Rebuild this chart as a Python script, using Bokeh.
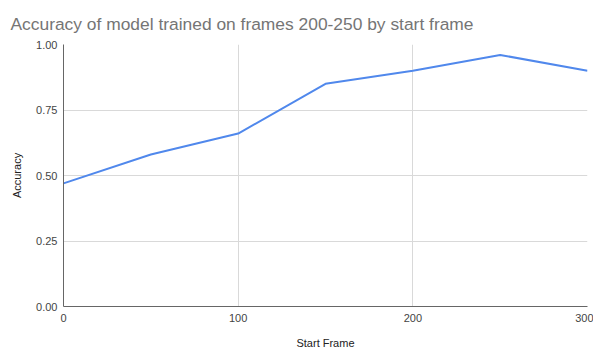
from bokeh.plotting import figure
from bokeh.models import FixedTicker, Range1d
from bokeh.embed import file_html
from bokeh.resources import INLINE

start_frame = [0, 50, 100, 150, 200, 250, 300]
accuracy = [0.47, 0.58, 0.66, 0.85, 0.90, 0.96, 0.90]
x_ticks = [0, 100, 200, 300]
y_ticks = [0.0, 0.25, 0.5, 0.75, 1.0]

FONT = "Liberation Sans"

p = figure(width=593, height=351, output_backend="svg", toolbar_location=None,
           x_range=Range1d(0, 300), y_range=Range1d(0, 1),
           min_border_left=63, min_border_right=6, min_border_top=44, min_border_bottom=44,
           title="Accuracy of model trained on frames 200-250 by start frame")

p.title.text_font = FONT
p.title.text_font_size = "17.4px"
p.title.text_font_style = "normal"
p.title.text_color = "#757575"
p.title.offset = -53
p.title.standoff = 22

p.line(start_frame, accuracy, line_color="#5088ec", line_width=2)

p.xaxis.ticker = FixedTicker(ticks=x_ticks)
p.yaxis.ticker = FixedTicker(ticks=y_ticks)
p.yaxis.major_label_overrides = {0.0: "0.00", 0.25: "0.25", 0.5: "0.50", 0.75: "0.75", 1.0: "1.00"}
p.xaxis.major_label_overrides = {0: "0", 100: "100", 200: "200", 300: "300"}

for ax in (p.xaxis, p.yaxis):
    ax.major_tick_line_color = None
    ax.minor_tick_line_color = None
    ax.axis_line_color = "#666666"
    ax.axis_line_width = 1
    ax.major_label_text_font = FONT
    ax.major_label_text_font_size = "11px"
    ax.major_label_text_color = "#444444"
    ax.axis_label_text_font = FONT
    ax.axis_label_text_font_size = "11px"
    ax.axis_label_text_font_style = "normal"
    ax.axis_label_text_color = "#222222"

p.xaxis.major_label_standoff = 1
p.yaxis.major_label_standoff = 0
p.xaxis.axis_label = "Start Frame"
p.yaxis.axis_label = "Accuracy"
p.xaxis.axis_label_standoff = 12
p.yaxis.axis_label_standoff = 10

p.xgrid.grid_line_color = "#d9d9d9"
p.ygrid.grid_line_color = "#d9d9d9"
p.outline_line_color = None
p.background_fill_color = "white"
p.border_fill_color = "white"

open("out.html", "w").write(file_html(p, INLINE))
